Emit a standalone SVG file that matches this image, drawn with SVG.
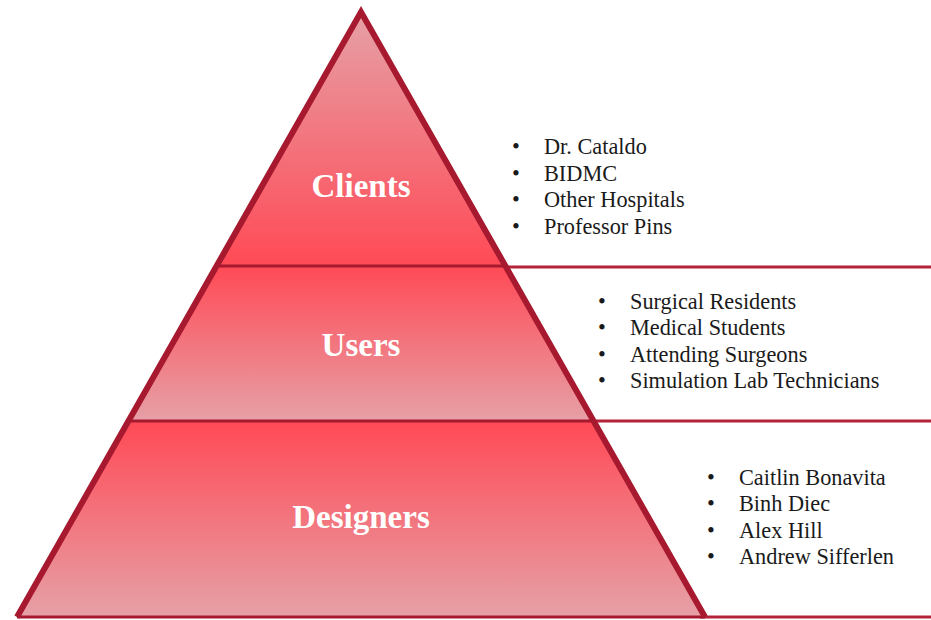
<svg xmlns="http://www.w3.org/2000/svg" width="931" height="620" viewBox="0 0 931 620">
<style>
.seg{stroke:none}
.edge{stroke:#A6192E;stroke-width:6;fill:none;stroke-linejoin:miter}
.div{stroke:#A6192E;stroke-width:3;fill:none}
.sep{stroke:#B3233A;stroke-width:3;fill:none}
.lbl{font-family:"Liberation Serif","Times New Roman",serif;font-weight:bold;font-size:33px;fill:#FFFFFF;text-anchor:middle}
.item{font-family:"Liberation Serif","Times New Roman",serif;font-size:22.3px;fill:#1a1a1a}
</style>
<defs>
<linearGradient id="gTop" x1="0" y1="0" x2="0" y2="1">
<stop offset="0" stop-color="#E6A0A6"/>
<stop offset="1" stop-color="#FF4A56"/>
</linearGradient>
<linearGradient id="gDown" x1="0" y1="0" x2="0" y2="1">
<stop offset="0" stop-color="#FF4A56"/>
<stop offset="1" stop-color="#E6A0A6"/>
</linearGradient>
</defs>
<g id="connectors">
<line class="sep" x1="500" y1="267" x2="931" y2="267"/>
<line class="sep" x1="590" y1="421" x2="931" y2="421"/>
<line class="sep" x1="700" y1="617" x2="931" y2="617"/>
</g>
<g id="clients">
<polygon class="seg" fill="url(#gTop)" points="361,12 506,266 216,266"/>
<text class="lbl" x="361" y="197">Clients</text>
</g>
<g id="users">
<polygon class="seg" fill="url(#gDown)" points="216,266 506,266 594,421 128,421"/>
<text class="lbl" x="361" y="356">Users</text>
</g>
<g id="designers">
<polygon class="seg" fill="url(#gDown)" points="128,421 594,421 705,616 17,616"/>
<text class="lbl" x="361" y="528">Designers</text>
</g>
<g id="outline">
<line class="div" x1="216" y1="266" x2="506" y2="266"/>
<line class="div" x1="128" y1="421" x2="594" y2="421"/>
<line class="div" x1="17" y1="617" x2="705" y2="617"/>
<polyline class="edge" points="17,617 361,12 705,617"/>
</g>
<g id="clients-list" class="item">
<text x="512" y="154">•</text><text x="544" y="154">Dr. Cataldo</text>
<text x="512" y="180.5">•</text><text x="544" y="180.5">BIDMC</text>
<text x="512" y="207">•</text><text x="544" y="207">Other Hospitals</text>
<text x="512" y="233.5">•</text><text x="544" y="233.5">Professor Pins</text>
</g>
<g id="users-list" class="item">
<text x="598" y="308.5">•</text><text x="630" y="308.5">Surgical Residents</text>
<text x="598" y="335">•</text><text x="630" y="335">Medical Students</text>
<text x="598" y="361.5">•</text><text x="630" y="361.5">Attending Surgeons</text>
<text x="598" y="388">•</text><text x="630" y="388">Simulation Lab Technicians</text>
</g>
<g id="designers-list" class="item">
<text x="707" y="484.5">•</text><text x="739" y="484.5">Caitlin Bonavita</text>
<text x="707" y="511">•</text><text x="739" y="511">Binh Diec</text>
<text x="707" y="537.5">•</text><text x="739" y="537.5">Alex Hill</text>
<text x="707" y="564">•</text><text x="739" y="564">Andrew Sifferlen</text>
</g>
</svg>
